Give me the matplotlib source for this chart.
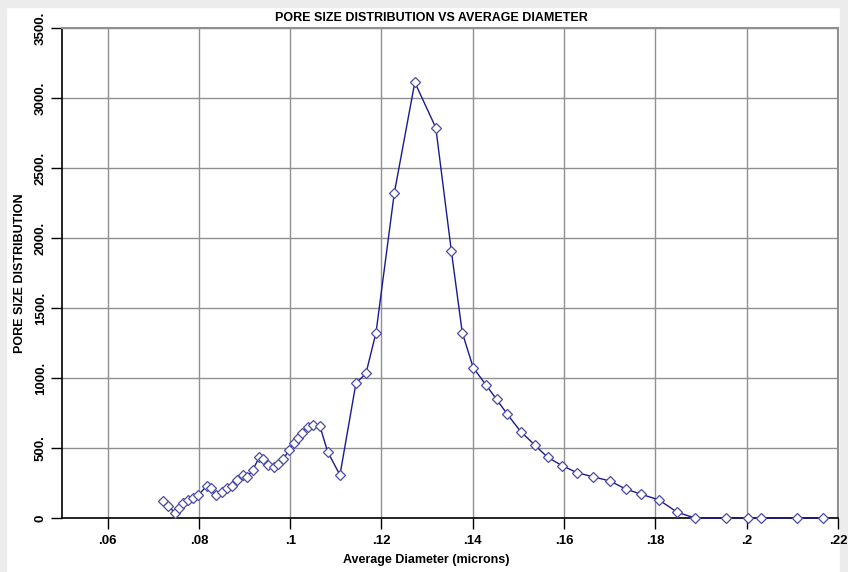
import numpy as np
import matplotlib
matplotlib.use("Agg")
import matplotlib.pyplot as plt
from matplotlib.patches import Rectangle

# average diameter (microns) and pore size distribution
diameter = [0.0722, 0.0733, 0.0748, 0.0757, 0.0766, 0.0777, 0.0788, 0.0799,
            0.0817, 0.0826, 0.0837, 0.0850, 0.0861, 0.0872, 0.0884, 0.0897,
            0.0906, 0.0918, 0.0932, 0.0941, 0.0952, 0.0964, 0.0974, 0.0985,
            0.0997, 0.1008, 0.1018, 0.1025, 0.1039, 0.1050, 0.1065, 0.1082,
            0.1109, 0.1144, 0.1166, 0.1188, 0.1228, 0.1273, 0.1319, 0.1353,
            0.1377, 0.1401, 0.1429, 0.1452, 0.1476, 0.1505, 0.1536, 0.1564,
            0.1596, 0.1628, 0.1663, 0.1701, 0.1735, 0.1768, 0.1808, 0.1848,
            0.1887, 0.1955, 0.2002, 0.2031, 0.2111, 0.2167]
psd = [124, 86, 33, 69, 105, 128, 140, 164,
       229, 212, 164, 188, 212, 228, 271, 307,
       295, 343, 433, 419, 379, 362, 386, 419,
       486, 533, 569, 609, 652, 664, 657, 474,
       307, 962, 1033, 1324, 2319, 3112, 2788, 1909,
       1324, 1074, 950, 848, 740, 617, 521, 433,
       374, 324, 295, 264, 207, 171, 129, 41,
       0, 0, 0, 0, 0, 0]

xticks = [0.06, 0.08, 0.1, 0.12, 0.14, 0.16, 0.18, 0.2, 0.22]
xticklabels = ['.06', '.08', '.1', '.12', '.14', '.16', '.18', '.2', '.22']
yticks = [0, 500, 1000, 1500, 2000, 2500, 3000, 3500]
yticklabels = ['0', '500.', '1000.', '1500.', '2000.', '2500.', '3000.', '3500.']

plt.rcParams['font.family'] = ['Liberation Sans', 'DejaVu Sans']
plt.rcParams['font.weight'] = 'bold'

fig = plt.figure(figsize=(8.48, 5.72), dpi=100)
# light grey frame around the image
fig.patches.append(Rectangle((0, 0.988), 1, 0.012, transform=fig.transFigure,
                             color='#ececec', zorder=-1))
fig.patches.append(Rectangle((0, 0), 0.007, 1, transform=fig.transFigure,
                             color='#ececec', zorder=-1))
fig.patches.append(Rectangle((0.991, 0), 0.009, 1, transform=fig.transFigure,
                             color='#ececec', zorder=-1))

ax = fig.add_axes([0.0731, 0.0944, 0.915, 0.8566])
ax.plot(diameter, psd, color='#1a1a8c', lw=1.0, marker='D', ms=5,
        mfc='white', mec='#4a4aa8', mew=0.9, zorder=3, clip_on=False)

ax.set_xlim(0.05, 0.22)
ax.set_ylim(0, 3500)
ax.set_xticks(xticks)
ax.set_xticklabels(xticklabels, fontsize=9.5, fontweight='bold')
ax.set_yticks(yticks)
ax.set_yticklabels(yticklabels, fontsize=9.5, fontweight='bold',
                   rotation=90, va='center')
ax.tick_params(axis='both', direction='out', length=8, width=1, color='black')
ax.tick_params(axis='x', pad=4)
ax.tick_params(axis='y', pad=3)
ax.grid(True, color='#909090', lw=1.0)
ax.set_axisbelow(True)

for s in ['top', 'right']:
    ax.spines[s].set_color('#909090')
    ax.spines[s].set_linewidth(1.5)
for s in ['left', 'bottom']:
    ax.spines[s].set_color('black')
    ax.spines[s].set_linewidth(1.2)

ax.set_title('PORE SIZE DISTRIBUTION VS AVERAGE DIAMETER', fontsize=9,
             fontweight='bold', pad=5, x=0.4755)
ax.set_xlabel('Average Diameter (microns)', fontsize=9, fontweight='bold')
ax.xaxis.set_label_coords(0.47, -0.073)
ax.set_ylabel('PORE SIZE DISTRIBUTION', fontsize=9, fontweight='bold',
              labelpad=6)

fig.savefig('out.png', dpi=100)
